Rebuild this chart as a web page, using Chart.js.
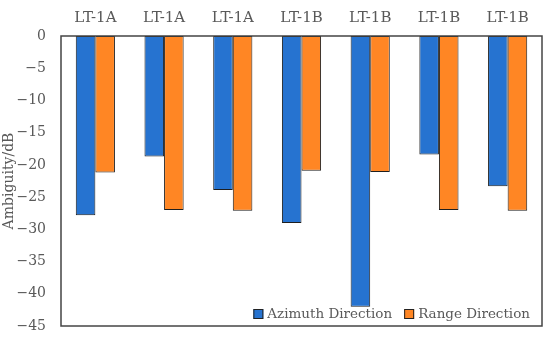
<!DOCTYPE html>
<html>
<head>
<meta charset="utf-8">
<script src="https://cdn.jsdelivr.net/npm/chart.js@4"></script>
<style>
  html, body { margin: 0; padding: 0; background: #fff; }
  canvas { display: block; }
</style>
</head>
<body>
<canvas id="ambChart" width="550" height="338"></canvas>
<script>
// Dados do gráfico
const categories = ['LT-1A', 'LT-1A', 'LT-1A', 'LT-1B', 'LT-1B', 'LT-1B', 'LT-1B'];
const azimuthValues = [-27.8, -18.7, -23.9, -29.0, -42.0, -18.4, -23.3];
const rangeValues = [-21.2, -27.0, -27.1, -20.9, -21.1, -27.0, -27.1];
const yTicks = [0, -5, -10, -15, -20, -25, -30, -35, -40, -45];

const FONT = "'DejaVu Serif', 'Liberation Serif', serif";
const GRAY = '#595959';

// caixa em volta da área do gráfico + legenda dentro
const boxPlugin = {
    id: 'boxAndLegend',
    afterDraw(chart) {
        const { ctx, chartArea } = chart;
        ctx.save();
        ctx.strokeStyle = '#444';
        ctx.lineWidth = 1.5;
        ctx.strokeRect(chartArea.left, chartArea.top, chartArea.right - chartArea.left, chartArea.bottom - chartArea.top);

        // legenda no canto inferior direito
        ctx.font = '13.5px ' + FONT;
        ctx.textBaseline = 'middle';
        const y = chartArea.bottom - 12;
        let x = chartArea.right - 12;
        const items = chart.data.datasets.slice().reverse();
        items.forEach(ds => {
            const w = ctx.measureText(ds.label).width;
            x -= w;
            ctx.fillStyle = GRAY;
            ctx.fillText(ds.label, x, y);
            x -= 14;
            ctx.fillStyle = ds.backgroundColor;
            ctx.fillRect(x, y - 5, 10, 10);
            ctx.strokeStyle = '#222';
            ctx.lineWidth = 1;
            ctx.strokeRect(x + 0.5, y - 4.5, 9, 9);
            x -= 12;
        });
        ctx.restore();
    }
};

const ctx = document.getElementById('ambChart').getContext('2d');
const chart = new Chart(ctx, {
    type: 'bar',
    data: {
        labels: categories,
        datasets: [{
            label: 'Azimuth Direction',
            data: azimuthValues,
            backgroundColor: '#2673D0',
            borderColor: '#1e1e1e',
            borderWidth: 1,
            borderSkipped: false
        }, {
            label: 'Range Direction',
            data: rangeValues,
            backgroundColor: '#FF8624',
            borderColor: '#1e1e1e',
            borderWidth: 1,
            borderSkipped: false
        }]
    },
    options: {
        responsive: false,
        animation: false,
        layout: { padding: { left: 1, right: 8, top: 0, bottom: 0 } },
        datasets: { bar: { categoryPercentage: 0.57, barPercentage: 1.0 } },
        plugins: {
            legend: { display: false },
            tooltip: { enabled: false }
        },
        scales: {
            x: {
                position: 'top',
                grid: { display: false, drawTicks: false },
                border: { display: false },
                ticks: { color: GRAY, font: { family: FONT, size: 15 }, padding: 9 }
            },
            y: {
                min: -45,
                max: 0,
                afterBuildTicks: axis => { axis.ticks = yTicks.map(v => ({ value: v })); },
                afterFit: axis => {
                    axis.width = 60;
                    axis.paddingTop = 0;
                    axis.paddingBottom = 12;
                },
                grid: { display: false, drawTicks: false },
                border: { display: false },
                ticks: {
                    color: GRAY,
                    font: { family: FONT, size: 14 },
                    padding: 15,
                    callback: v => String(v).replace('-', '\u2212')
                },
                title: {
                    display: true,
                    text: 'Ambiguity/dB',
                    color: GRAY,
                    font: { family: FONT, size: 14 },
                    padding: { top: 0, bottom: 0 }
                }
            }
        }
    },
    plugins: [boxPlugin]
});
</script>
</body>
</html>
